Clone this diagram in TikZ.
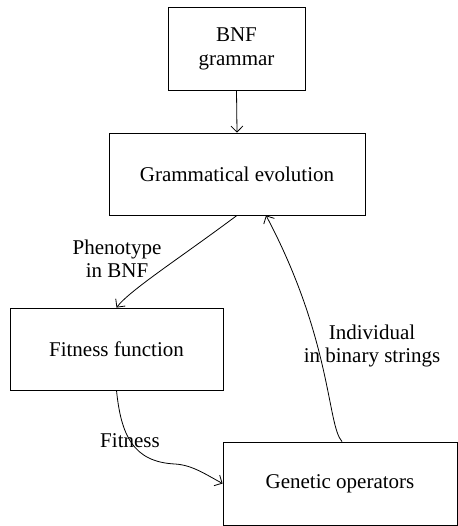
\documentclass[tikz,border=0pt]{standalone}
\usepackage{fontspec}
\setmainfont{Liberation Serif}
\usetikzlibrary{arrows.meta}
\begin{document}
\begin{tikzpicture}[x=1pt,y=-1pt,
  box/.style={draw,line width=0.8pt,inner sep=0pt,align=center,font=\fontsize{21}{24}\selectfont},
  lbl/.style={align=center,inner sep=0pt,font=\fontsize{21}{23}\selectfont},
  conn/.style={line width=0.8pt,-{Straight Barb[length=6pt,width=12pt]}}]
\useasboundingbox (0,0) rectangle (457,526);
\node[box,minimum width=137pt,minimum height=83pt] (bnf) at (236.5,48.5) {BNF\\grammar};
\node[box,minimum width=256pt,minimum height=82pt] (ge) at (237,174) {Grammatical evolution};
\node[box,minimum width=213pt,minimum height=82pt] (ff) at (116.5,349) {Fitness function};
\node[box,minimum width=234pt,minimum height=83pt] (go) at (340,483.5) {Genetic operators};
\draw[conn] (bnf.south) -- (ge.north);
\draw[conn] (ge.south) .. controls (180,258) and (130,290) .. (ff.north);
\draw[conn] (ff.south) .. controls (121,435) and (133,462) .. (175,464) .. controls (192,465) and (205,474) .. (go.west);
\draw[conn] ([xshift=2pt]go.north) .. controls (327,425) and (332,340) .. ([xshift=29pt]ge.south);
\node[lbl] (l1) at (117,259) {Phenotype\\in BNF};
\node[lbl] (l2) at (130,441) {Fitness};
\node[lbl] (l3) at (372,346) {Individual\\in binary strings};
\end{tikzpicture}
\end{document}
